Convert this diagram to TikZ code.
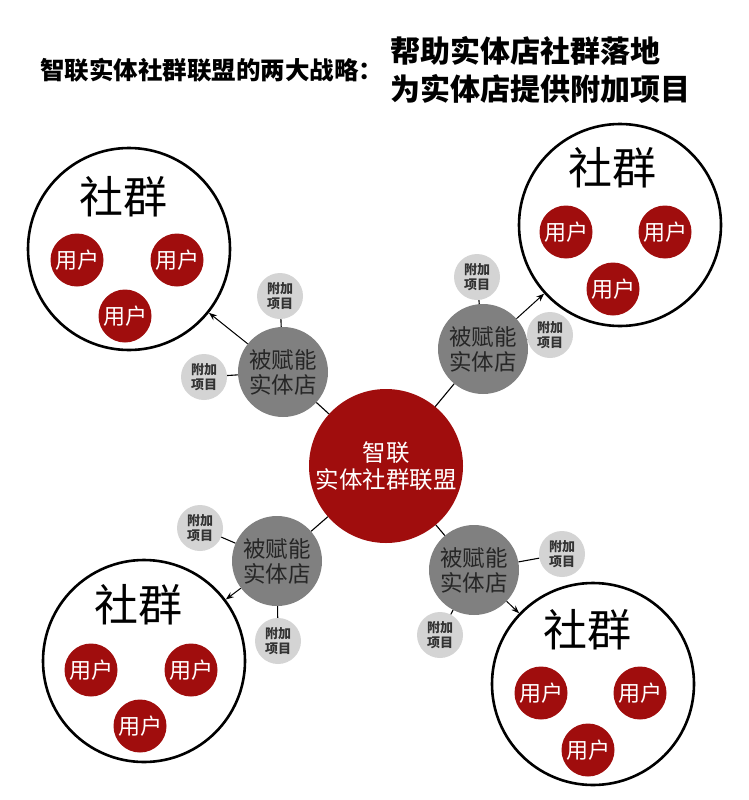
\documentclass[tikz,border=0pt]{standalone}
\usepackage{fontspec}
\setmainfont{Noto Sans CJK SC}
\usepackage{xcolor}
\usetikzlibrary{arrows.meta}
\definecolor{allyred}{HTML}{A00D0D}
\definecolor{storegray}{HTML}{808080}
\definecolor{extragray}{HTML}{D4D4D4}

\begin{document}
\begin{tikzpicture}[x=1pt,y=-1pt,
 hub/.style={circle,fill=allyred,inner sep=0pt,minimum size=154pt,text=white,align=center,font=\fontsize{23.5}{27}\selectfont},
 store/.style={circle,fill=storegray,inner sep=0pt,minimum size=90pt,text=black!85,align=center,font=\fontsize{22.5}{25}\selectfont},
 extra/.style={circle,fill=extragray,inner sep=0pt,minimum size=46pt,text=black!80,align=center,font=\bfseries\fontsize{13}{15}\selectfont},
 group/.style={circle,draw,line width=2.6pt,fill=white,inner sep=0pt,minimum size=202pt},
 grouptitle/.style={font=\fontsize{44}{46}\selectfont},
 user/.style={circle,fill=allyred,inner sep=0pt,minimum size=53pt,text=white,font=\fontsize{22}{24}\selectfont},
 link/.style={line width=1.1pt},
 arr/.style={-{Stealth[length=8pt,width=6pt]},line width=1pt}
]
\useasboundingbox (0,0) rectangle (748,800);
% title
\node[anchor=east,font=\bfseries\fontsize{24.5}{27}\selectfont] (title) at (387,70) {智联实体社群联盟的两大战略：};
\node[anchor=west,align=left,font=\bfseries\fontsize{30}{38}\selectfont] (goals) at (387,70) {帮助实体店社群落地\\为实体店提供附加项目};
% communities
\node[group] (grpA) at (129,249) {};
\node[group] (grpB) at (620,225) {};
\node[group] (grpC) at (144,661) {};
\node[group] (grpD) at (593,684) {};
\node[grouptitle] (nameA) at (123,197) {社群};
\node[grouptitle] (nameB) at (612,168) {社群};
\node[grouptitle] (nameC) at (138,605) {社群};
\node[grouptitle] (nameD) at (587,630) {社群};
\node[user] (uA1) at (77,260) {用户};
\node[user] (uA2) at (177,260) {用户};
\node[user] (uA3) at (125,316) {用户};
\node[user] (uB1) at (566,232) {用户};
\node[user] (uB2) at (665,232) {用户};
\node[user] (uB3) at (613,289) {用户};
\node[user] (uC1) at (91,670) {用户};
\node[user] (uC2) at (191,670) {用户};
\node[user] (uC3) at (140,726) {用户};
\node[user] (uD1) at (541,693) {用户};
\node[user] (uD2) at (640,693) {用户};
\node[user] (uD3) at (588,750) {用户};
% alliance and stores
\node[hub] (ally) at (386,466) {智联\\实体社群联盟};
\node[store] (stA) at (283,372) {被赋能\\实体店};
\node[store] (stB) at (483,349) {被赋能\\实体店};
\node[store] (stC) at (277,561) {被赋能\\实体店};
\node[store] (stD) at (474,570) {被赋能\\实体店};
% extra projects
\node[extra] (exA1) at (280,296) {附加\\项目};
\node[extra] (exA2) at (204,377) {附加\\项目};
\node[extra] (exB1) at (477,277) {附加\\项目};
\node[extra] (exB2) at (550,335) {附加\\项目};
\node[extra] (exC1) at (200,528) {附加\\项目};
\node[extra] (exC2) at (278,641) {附加\\项目};
\node[extra] (exD1) at (562,554) {附加\\项目};
\node[extra] (exD2) at (440,635) {附加\\项目};
% connectors
\draw[link] (ally)--(stA); \draw[link] (ally)--(stB); \draw[link] (ally)--(stC); \draw[link] (ally)--(stD);
\draw[link] (stA)--(exA1); \draw[link] (stA)--(exA2); \draw[link] (stB)--(exB1); \draw[link] (stB)--(exB2);
\draw[link] (stC)--(exC1); \draw[link] (stC)--(exC2); \draw[link] (stD)--(exD1); \draw[link] (stD)--(exD2);
\draw[arr] (stA)--(grpA); \draw[arr] (stB)--(grpB); \draw[arr] (stC)--(grpC); \draw[arr] (stD)--(grpD);
\end{tikzpicture}
\end{document}
